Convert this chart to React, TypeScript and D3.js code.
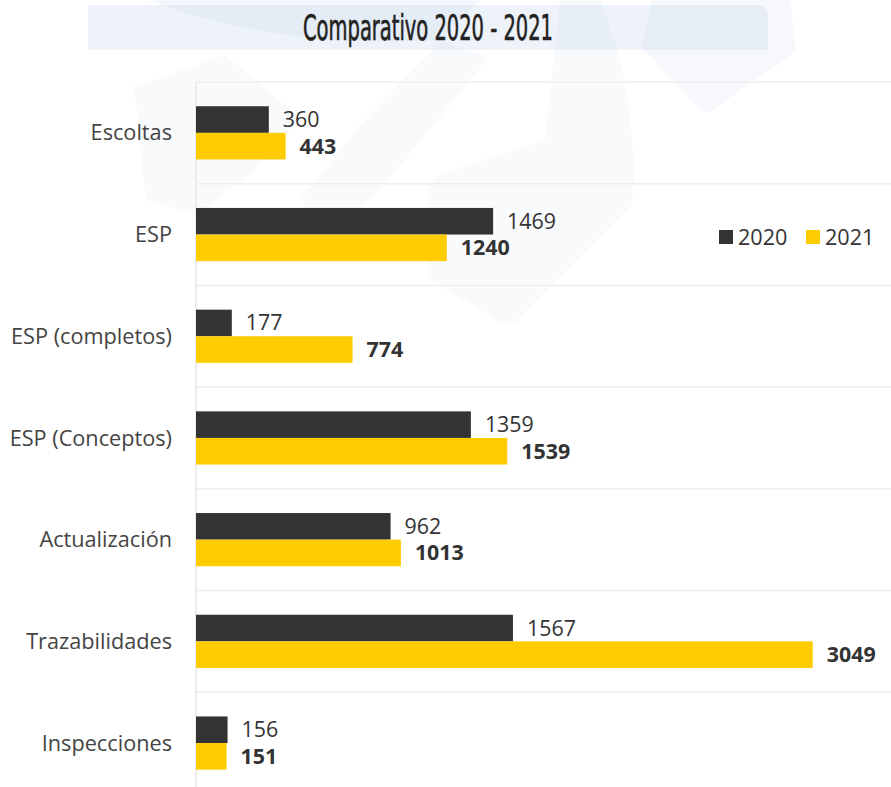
import React, { useEffect } from "react";
import * as d3 from "d3";

const categories = [
  "Escoltas",
  "ESP",
  "ESP (completos)",
  "ESP (Conceptos)",
  "Actualización",
  "Trazabilidades",
  "Inspecciones",
];
const series = ["2020", "2021"];
const values2020 = [360, 1469, 177, 1359, 962, 1567, 156];
const values2021 = [443, 1240, 774, 1539, 1013, 3049, 151];
const seriesColors = ["#333333", "#ffcc00"];
const title = "Comparativo 2020 - 2021";

const W = 891;
const H = 787;

export default function App() {
  useEffect(() => {
    document.body.style.margin = "0";
  }, []);

  const x = d3.scaleLinear().domain([0, d3.max(values2021) as number]).range([196, 812.7]);
  const y = d3.scaleBand<string>().domain(categories).range([82, 82 + 101.7 * categories.length]);
  const ys = d3.scaleBand<string>().domain(series).range([24.25, 77.45]);
  const data = [values2020, values2021];

  const font = "'Open Sans', sans-serif";
  const wm = "#96b4d7";

  return (
    <svg width={W} height={H} style={{ display: "block", background: "#fff" }}>
      {/* watermark */}
      <g fill={wm}>
        <path d="M150,0 C230,32 330,46 440,40 L480,0 Z" opacity={0.1} />
        <path
          d={d3.line().curve(d3.curveLinearClosed)([
            [134, 87], [225, 55], [300, 118], [250, 175], [196, 214], [146, 200],
          ]) as string}
          opacity={0.07}
        />
        <path
          d={d3.line().curve(d3.curveLinearClosed)([
            [440, 42], [489, 57], [380, 190], [332, 232], [300, 200], [360, 125],
          ]) as string}
          opacity={0.07}
        />
        <path
          d="M428,190 Q430,178 442,174 L545,140 L560,0 L600,0 Q640,100 632,205 L515,322 Q508,326 500,322 L428,278 Z"
          opacity={0.07}
        />
        <path d="M652,0 L790,0 L796,52 L712,110 Q706,114 700,110 L642,48 Z" opacity={0.09} />
      </g>
      {/* title band */}
      <path d="M88,5 L756,5 Q768,5 768,17 L768,50 L88,50 Z" fill={wm} opacity={0.16} />
      <text
        x={428}
        y={40}
        textAnchor="middle"
        fontFamily="'Liberation Sans Narrow', 'DejaVu Sans Condensed', sans-serif"
        fontSize={35}
        textLength={250}
        lengthAdjust="spacingAndGlyphs"
        fill="#222"
        stroke="#222"
        strokeWidth={0.6}
      >
        {title}
      </text>

      {/* grid */}
      <g stroke="#eeeeee" strokeWidth={1.5}>
        {categories.map((c) => (
          <line key={c} x1={196} x2={W} y1={y(c)} y2={y(c)} />
        ))}
        <line x1={196} x2={W} y1={(y(categories[6]) as number) + y.bandwidth()} y2={(y(categories[6]) as number) + y.bandwidth()} />
      </g>
      <line x1={196} x2={196} y1={82} y2={H} stroke="#e6e6e6" strokeWidth={1.5} />

      {/* category labels */}
      {categories.map((c) => (
        <text
          key={c}
          x={172}
          y={(y(c) as number) + y.bandwidth() / 2}
          dy="0.35em"
          textAnchor="end"
          fontFamily={font}
          fontSize={21.7}
          fill="#444"
        >
          {c}
        </text>
      ))}

      {/* bars */}
      {series.map((s, si) =>
        categories.map((c, ci) => {
          const v = data[si][ci];
          const y0 = (y(c) as number) + (ys(s) as number);
          return (
            <g key={s + c}>
              <rect x={x(0)} y={y0} width={x(v) - x(0)} height={ys.bandwidth()} fill={seriesColors[si]} />
              <text
                x={x(v) + 14}
                y={y0 + ys.bandwidth() / 2}
                dy="0.35em"
                fontFamily={font}
                fontSize={21.4}
                fontWeight={si === 1 ? 700 : 400}
                fill="#333"
              >
                {v}
              </text>
            </g>
          );
        })
      )}

      {/* legend */}
      {series.map((s, i) => (
        <g key={s} transform={`translate(${719 + i * 87},230)`}>
          <rect width={14} height={14} fill={seriesColors[i]} />
          <text x={19} y={7} dy="0.35em" fontFamily={font} fontSize={21.6} fill="#333">
            {s}
          </text>
        </g>
      ))}
    </svg>
  );
}
